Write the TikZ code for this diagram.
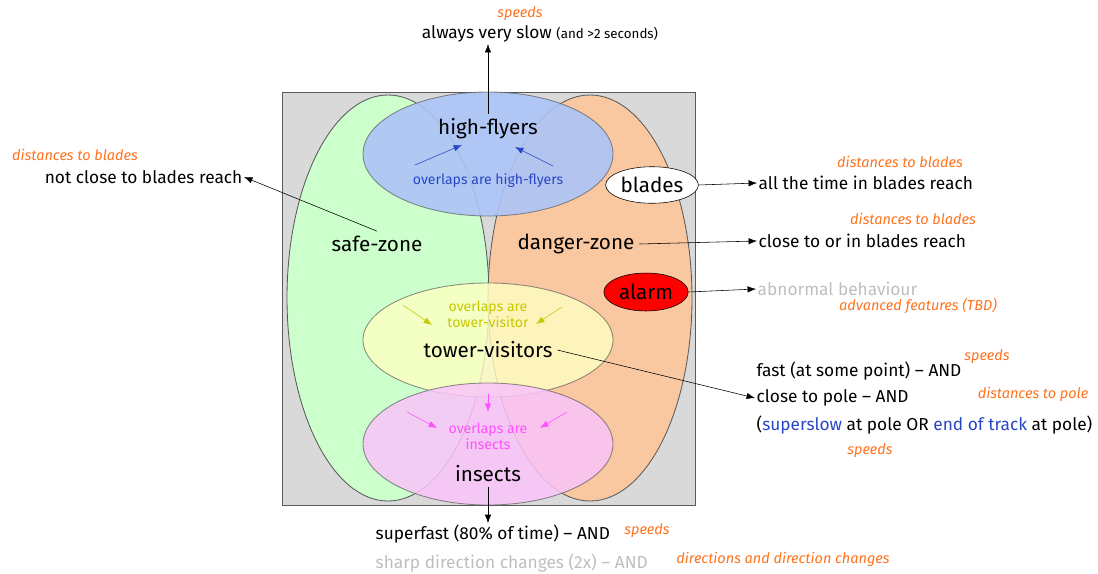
\documentclass[tikz,border=0pt]{standalone}
\usepackage{fontspec}
\setmainfont{Fira Sans}
\usetikzlibrary{arrows.meta,shapes.geometric}

\definecolor{boxgray}{RGB}{217,217,217}
\definecolor{edgegray}{RGB}{90,90,90}
\definecolor{safegreen}{RGB}{204,255,204}
\definecolor{dangerorange}{RGB}{249,200,160}
\definecolor{flyerblue}{RGB}{172,196,248}
\definecolor{visitoryellow}{RGB}{255,255,195}
\definecolor{insectpink}{RGB}{250,196,250}
\definecolor{noteorange}{RGB}{255,115,30}
\definecolor{hintblue}{RGB}{40,70,200}
\definecolor{hintyellow}{RGB}{200,200,0}
\definecolor{hintpink}{RGB}{255,80,255}
\definecolor{paletext}{RGB}{190,190,190}

\begin{document}
\begin{tikzpicture}[x=0.025cm,y=-0.025cm, every text node part/.style={align=center},
  >={Latex[length=6pt,width=4.5pt]},
  zone/.style={draw=edgegray, line width=0.6pt},
  lbl/.style={font=\fontsize{14.7}{17}\selectfont},
  txt/.style={font=\fontsize{12.3}{14}\selectfont, inner sep=1pt},
  note/.style={font=\fontsize{10.3}{12}\selectfont\itshape, text=noteorange, inner sep=1pt},
  hint/.style={font=\fontsize{10}{11.5}\selectfont, inner sep=1pt}]

\useasboundingbox (0,0) rectangle (1098,573);

\draw[fill=boxgray, draw=edgegray, line width=0.6pt] (282,92) rectangle (695,505);

\draw[zone, fill=safegreen] (388,298) ellipse [x radius=101, y radius=203];
\draw[zone, fill=dangerorange] (590,298) ellipse [x radius=102, y radius=203];
\draw[zone, fill=flyerblue, fill opacity=0.9, draw opacity=0.7] (488,154) ellipse [x radius=125, y radius=62];
\draw[zone, fill=visitoryellow, fill opacity=0.8, draw opacity=0.7] (488,340) ellipse [x radius=125, y radius=57];
\draw[zone, fill=insectpink, fill opacity=0.85, draw opacity=0.7] (488,444) ellipse [x radius=125, y radius=61];

\node[lbl] (hf) at (488,129) {high-flyers};
\node[hint, text=hintblue] (hfhint) at (488,181) {overlaps are high-flyers};
\draw[->, hintblue] (415,165) -- (462,145);
\draw[->, hintblue] (553,166) -- (515,147);

\node[lbl] (safe) at (377,244) {safe-zone};
\node[lbl] (danger) at (576,244) {danger-zone};

\node[lbl, draw, fill=white, ellipse, inner sep=1pt, minimum width=60pt, minimum height=26pt] (blades) at (652,185) {blades};
\node[lbl, draw, fill=red, ellipse, inner sep=1pt, minimum width=60pt, minimum height=27pt] (alarm) at (646,292) {alarm};

\node[hint, text=hintyellow] (tvhint) at (488,314) {overlaps are\\tower-visitor};
\draw[->, hintyellow] (403,305) -- (432,325);
\draw[->, hintyellow] (562,307) -- (536,324);
\node[lbl] (tower) at (488,350) {tower-visitors};

\node[hint, text=hintpink] (inhint) at (488,436) {overlaps are\\insects};
\draw[->, hintpink] (488,394) -- (488,412);
\draw[->, hintpink] (407,412) -- (437,428);
\draw[->, hintpink] (567,412) -- (540,428);
\node[lbl] (insects) at (488,474) {insects};

\node[txt] (slow) at (540,34) {always very slow {\fontsize{9.5}{11}\selectfont(and >2 seconds)}};
\node[note] at (520,14) {speeds};
\draw[->] (hf.north) -- (hf.north |- slow.south);

\node[txt, anchor=east] (far) at (244,177) {not close to blades reach};
\node[note] at (75,155) {distances to blades};
\draw[->] (safe.north) -- (far.east);

\node[txt, anchor=west] (always) at (757,183) {all the time in blades reach};
\node[note] at (900,162) {distances to blades};
\draw[->] (blades.east) -- (always.west);

\node[txt, anchor=west] (close) at (757,241) {close to or in blades reach};
\node[note] at (913,219) {distances to blades};
\draw[->] (danger.east) -- (close.west);

\node[txt, anchor=west, text=paletext] (abnormal) at (756,289) {abnormal behaviour};
\node[note] at (918,306) {advanced features (TBD)};
\draw[->] (alarm.east) -- (abnormal.west);

\node[txt, anchor=west] (fast) at (755,371) {fast (at some point) – AND};
\node[note] at (987,357) {speeds};
\node[txt, anchor=west] (pole) at (755,398) {close to pole – AND};
\node[note] at (1033,394) {distances to pole};
\node[txt, anchor=west] (slowpole) at (755,425) {(\textcolor{hintblue}{superslow} at pole OR \textcolor{hintblue}{end of track} at pole)};
\node[note] at (870,451) {speeds};
\draw[->] (tower.east) -- (pole.west);

\node[txt, anchor=west] (superfast) at (374,534) {superfast (80\% of time) – AND};
\node[note] at (647,531) {speeds};
\node[txt, anchor=west, text=paletext] (sharp) at (374,563) {sharp direction changes (2x) – AND};
\node[note] at (783,559) {directions and direction changes};
\draw[->] (insects.south) -- (insects.south |- superfast.north);

\end{tikzpicture}
\end{document}
